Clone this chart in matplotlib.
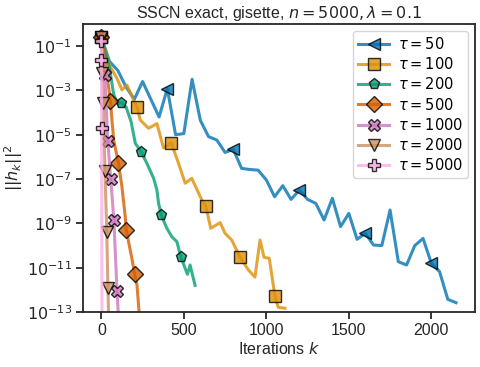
import numpy as np
import matplotlib
matplotlib.use("Agg")
import matplotlib.pyplot as plt
from matplotlib.ticker import FuncFormatter, NullLocator

plt.rcParams['font.family'] = ['Liberation Sans', 'DejaVu Sans']
plt.rcParams['mathtext.fontset'] = 'dejavusans'

# ---- data (iterations k, log10 of ||h_k||^2) ----
tau_labels = ["50", "100", "200", "500", "1000", "2000", "5000"]

k50 = [0, 50, 100, 150, 200, 250, 300, 350, 400, 450, 500, 550, 600, 650, 700, 750, 800,
       850, 900, 950, 1000, 1050, 1100, 1150, 1200, 1250, 1300, 1350, 1400, 1450, 1500,
       1550, 1600, 1650, 1700, 1750, 1800, 1850, 1900, 1950, 2000, 2050, 2100, 2150]
l50 = [-0.6, -1.7, -2.1, -2.85, -3.4, -2.6, -3.4, -4.2, -2.92, -5.0, -4.95, -2.5, -4.35,
       -5.09, -5.24, -5.8, -5.66, -6.52, -6.57, -6.6, -7.04, -7.8, -7.3, -7.92, -7.5,
       -7.92, -8.1, -8.85, -7.87, -9.15, -8.55, -9.72, -9.45, -9.98, -10.0, -8.4, -10.73,
       -10.88, -10.0, -9.68, -10.8, -11.18, -12.43, -12.58]
m50 = [0, 8, 16, 24, 32, 40]

k100 = [0, 54, 95, 125, 155, 196, 216, 236, 286, 337, 377, 423, 468, 508, 548, 609, 633,
        663, 720, 750, 790, 841, 891, 931, 962, 986, 1018, 1052, 1072, 1113]
l100 = [-0.6, -1.93, -2.46, -2.98, -2.76, -3.44, -3.75, -4.34, -4.71, -4.5, -5.6, -5.36,
        -6.29, -7.19, -6.97, -7.95, -8.23, -9.22, -8.97, -9.45, -9.75, -10.53, -11.1,
        -11.43, -9.75, -10.53, -10.58, -12.28, -12.79, -12.83]
m100 = [0, 6, 11, 16, 21, 27]

k200 = [0, 25, 50, 75, 100, 121, 150, 180, 206, 242, 276, 317, 337, 347, 363, 397, 427,
        458, 482, 508, 522, 538, 568]
l200 = [-0.6, -1.3, -2.0, -3.2, -3.6, -3.55, -3.75, -4.4, -5.39, -5.78, -6.29, -6.97,
        -7.5, -8.1, -8.62, -9.22, -9.6, -9.83, -10.52, -11.03, -11.3, -10.88, -11.8]
m200 = [0, 5, 9, 14, 18]

k500 = [0, 25, 55, 65, 75, 103, 125, 145, 151, 165, 185, 202, 216, 232]
l500 = [-0.6, -1.8, -3.48, -4.4, -5.24, -6.26, -7.35, -8.7, -9.28, -9.83, -10.58, -11.3,
        -11.78, -13.3]
m500 = [0, 2, 5, 8, 11]

k1000 = [0, 21, 39, 57, 76, 95, 106]
l1000 = [-0.6, -2.3, -5.3, -7.0, -8.85, -12.05, -13.5]
m1000 = [0, 1, 2, 3, 4, 5]

k2000 = [0, 5, 12, 22, 33, 40, 45]
l2000 = [-0.6, -2.2, -3.56, -6.62, -9.38, -11.93, -13.5]
m2000 = [0, 1, 2, 3, 4, 5]

k5000 = [0, 1, 2, 4]
l5000 = [-0.75, -1.65, -4.68, -13.5]
m5000 = [0, 1, 2]

ks = [k50, k100, k200, k500, k1000, k2000, k5000]
ls = [l50, l100, l200, l500, l1000, l2000, l5000]
ms_idx = [m50, m100, m200, m500, m1000, m2000, m5000]
markers = ['<', 's', 'p', 'D', 'X', 'v', 'P']
colors = ['#0173B2', '#DE8F05', '#029E73', '#D55E00', '#CC78BC', '#CA9161', '#FBAFE4']

fig = plt.figure(figsize=(4.81, 3.67), dpi=100)
ax = fig.add_axes([0.1726, 0.1499, 0.815, 0.785])

for k, lv, lab, mk, c, me in zip(ks, ls, tau_labels, markers, colors, ms_idx):
    ax.plot(k, 10.0 ** np.array(lv), color=c, marker=mk, markevery=me, lw=2.2,
            ms=8, mec='black', mew=1.0, alpha=0.8, label=r'$\tau = %s$' % lab)

ax.set_yscale('log')
ax.set_ylim(1e-13, 1e0)
ax.set_yticks([1e-1, 1e-3, 1e-5, 1e-7, 1e-9, 1e-11, 1e-13])
ax.yaxis.set_minor_locator(NullLocator())
ax.yaxis.set_major_formatter(FuncFormatter(lambda v, p: r'$10^{%d}$' % int(round(np.log10(v)))))
ax.set_xticks([0, 500, 1000, 1500, 2000])
ax.set_xlim(-111, 2265)

for sp in ax.spines.values():
    sp.set_linewidth(1.3)
    sp.set_color('#262626')
ax.tick_params(axis='both', which='major', direction='out', length=5, width=1.3,
               color='#262626', labelsize=11.5, labelcolor='#262626', pad=3)

ax.set_xlabel(r'Iterations $k$', fontsize=11.5, color='#262626', labelpad=2)
ax.set_ylabel(r'$||h_k||^2$', fontsize=11.5, color='#262626')
ax.yaxis.set_label_coords(-0.148, 0.5)
ax.set_title(r'SSCN exact, gisette, $n = 5000, \lambda = 0.1$', fontsize=11.5,
             color='#262626', pad=4)

leg = ax.legend(loc='upper right', fontsize=10.5, frameon=True, fancybox=True,
                handlelength=2.1, borderpad=0.35, labelspacing=0.28, handletextpad=0.6,
                borderaxespad=0.5)
leg.get_frame().set_edgecolor('#cccccc')

fig.savefig('out.png', dpi=100)
